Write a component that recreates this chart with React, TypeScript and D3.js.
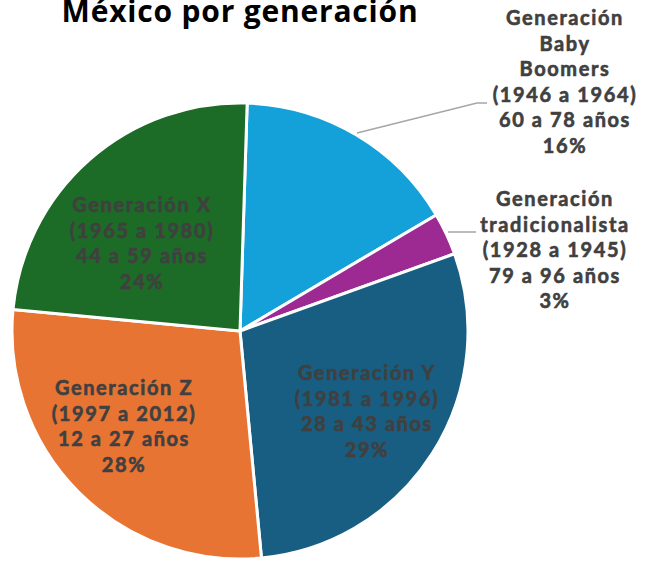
import React, { useEffect, useRef } from 'react';
import * as d3 from 'd3';

// Datos (orden horario desde arriba)
const generaciones = ['Baby Boomers', 'Tradicionalista', 'Generación Y', 'Generación Z', 'Generación X'];
const porcentajes = [16, 3, 29, 28, 24];
const colores = ['#14a0d8', '#9c2a92', '#175e82', '#e87433', '#1c6b26'];
const etiquetas = [
  ['Generación', 'Baby', 'Boomers', '(1946 a 1964)', '60 a 78 años', '16%'],
  ['Generación', 'tradicionalista', '(1928 a 1945)', '79 a 96 años', '3%'],
  ['Generación Y', '(1981 a 1996)', '28 a 43 años', '29%'],
  ['Generación Z', '(1997 a 2012)', '12 a 27 años', '28%'],
  ['Generación X', '(1965 a 1980)', '44 a 59 años', '24%'],
];
const titulo = 'México por generación';

const App = () => {
  const ref = useRef<SVGSVGElement>(null);

  useEffect(() => {
    const width = 649;
    const height = 563;
    const cx = 240;
    const cy = 331;
    const radius = 228;

    const svg = d3.select(ref.current);
    svg.selectAll('*').remove();

    const data = generaciones.map((g, i) => ({ g, v: porcentajes[i], color: colores[i], lines: etiquetas[i] }));

    const pie = d3
      .pie<any>()
      .sort(null)
      .value(d => d.v)
      .startAngle((1.8 * Math.PI) / 180)
      .endAngle((1.8 * Math.PI) / 180 + 2 * Math.PI);

    const arc = d3.arc<any>().innerRadius(0).outerRadius(radius);

    const g = svg.append('g').attr('transform', `translate(${cx},${cy})`);

    g.selectAll('path')
      .data(pie(data))
      .enter()
      .append('path')
      .attr('d', arc)
      .attr('fill', d => d.data.color)
      .attr('stroke', '#fff')
      .attr('stroke-width', 3)
      .attr('stroke-linejoin', 'round');

    // Líneas guía de las etiquetas externas
    const guias = [
      [[357, 133], [477, 103], [487, 103]],
      [[448, 232], [476, 232]],
    ];
    svg
      .selectAll('.guia')
      .data(guias)
      .enter()
      .append('polyline')
      .attr('class', 'guia')
      .attr('points', d => d.map(p => p.join(',')).join(' '))
      .attr('fill', 'none')
      .attr('stroke', '#a6a6a6')
      .attr('stroke-width', 1.5);

    // Posiciones de las etiquetas (centro x, primera línea base)
    const posiciones = [
      [565, 25],
      [555, 206],
      [367, 380],
      [124, 395],
      [142, 212],
    ];
    const lineHeight = 25.5;

    const labels = svg
      .selectAll('.etiqueta')
      .data(data)
      .enter()
      .append('text')
      .attr('class', 'etiqueta')
      .attr('text-anchor', 'middle')
      .style('font-family', 'Lato, sans-serif')
      .style('font-weight', 700)
      .style('font-size', '20px')
      .style('letter-spacing', '1.6px')
      .attr('fill', '#404040')
      .attr('stroke', '#404040')
      .attr('stroke-width', 0.6);

    labels.each(function (d, i) {
      const [x, y] = posiciones[i];
      d3.select(this)
        .selectAll('tspan')
        .data(d.lines)
        .enter()
        .append('tspan')
        .attr('x', x)
        .attr('y', (_, j) => y + j * lineHeight)
        .text(t => t);
    });

    // Título
    svg
      .append('text')
      .attr('x', 240)
      .attr('y', 22)
      .attr('text-anchor', 'middle')
      .style('font-family', "'Open Sans', sans-serif")
      .style('font-weight', 700)
      .style('font-size', '30px')
      .style('letter-spacing', '0.8px')
      .attr('fill', '#000')
      .text(titulo);

    svg.attr('width', width).attr('height', height);
  }, []);

  return (
    <svg
      ref={ref}
      width={649}
      height={563}
      style={{ position: 'absolute', left: 0, top: 0, background: '#fff' }}
    />
  );
};

export default App;
